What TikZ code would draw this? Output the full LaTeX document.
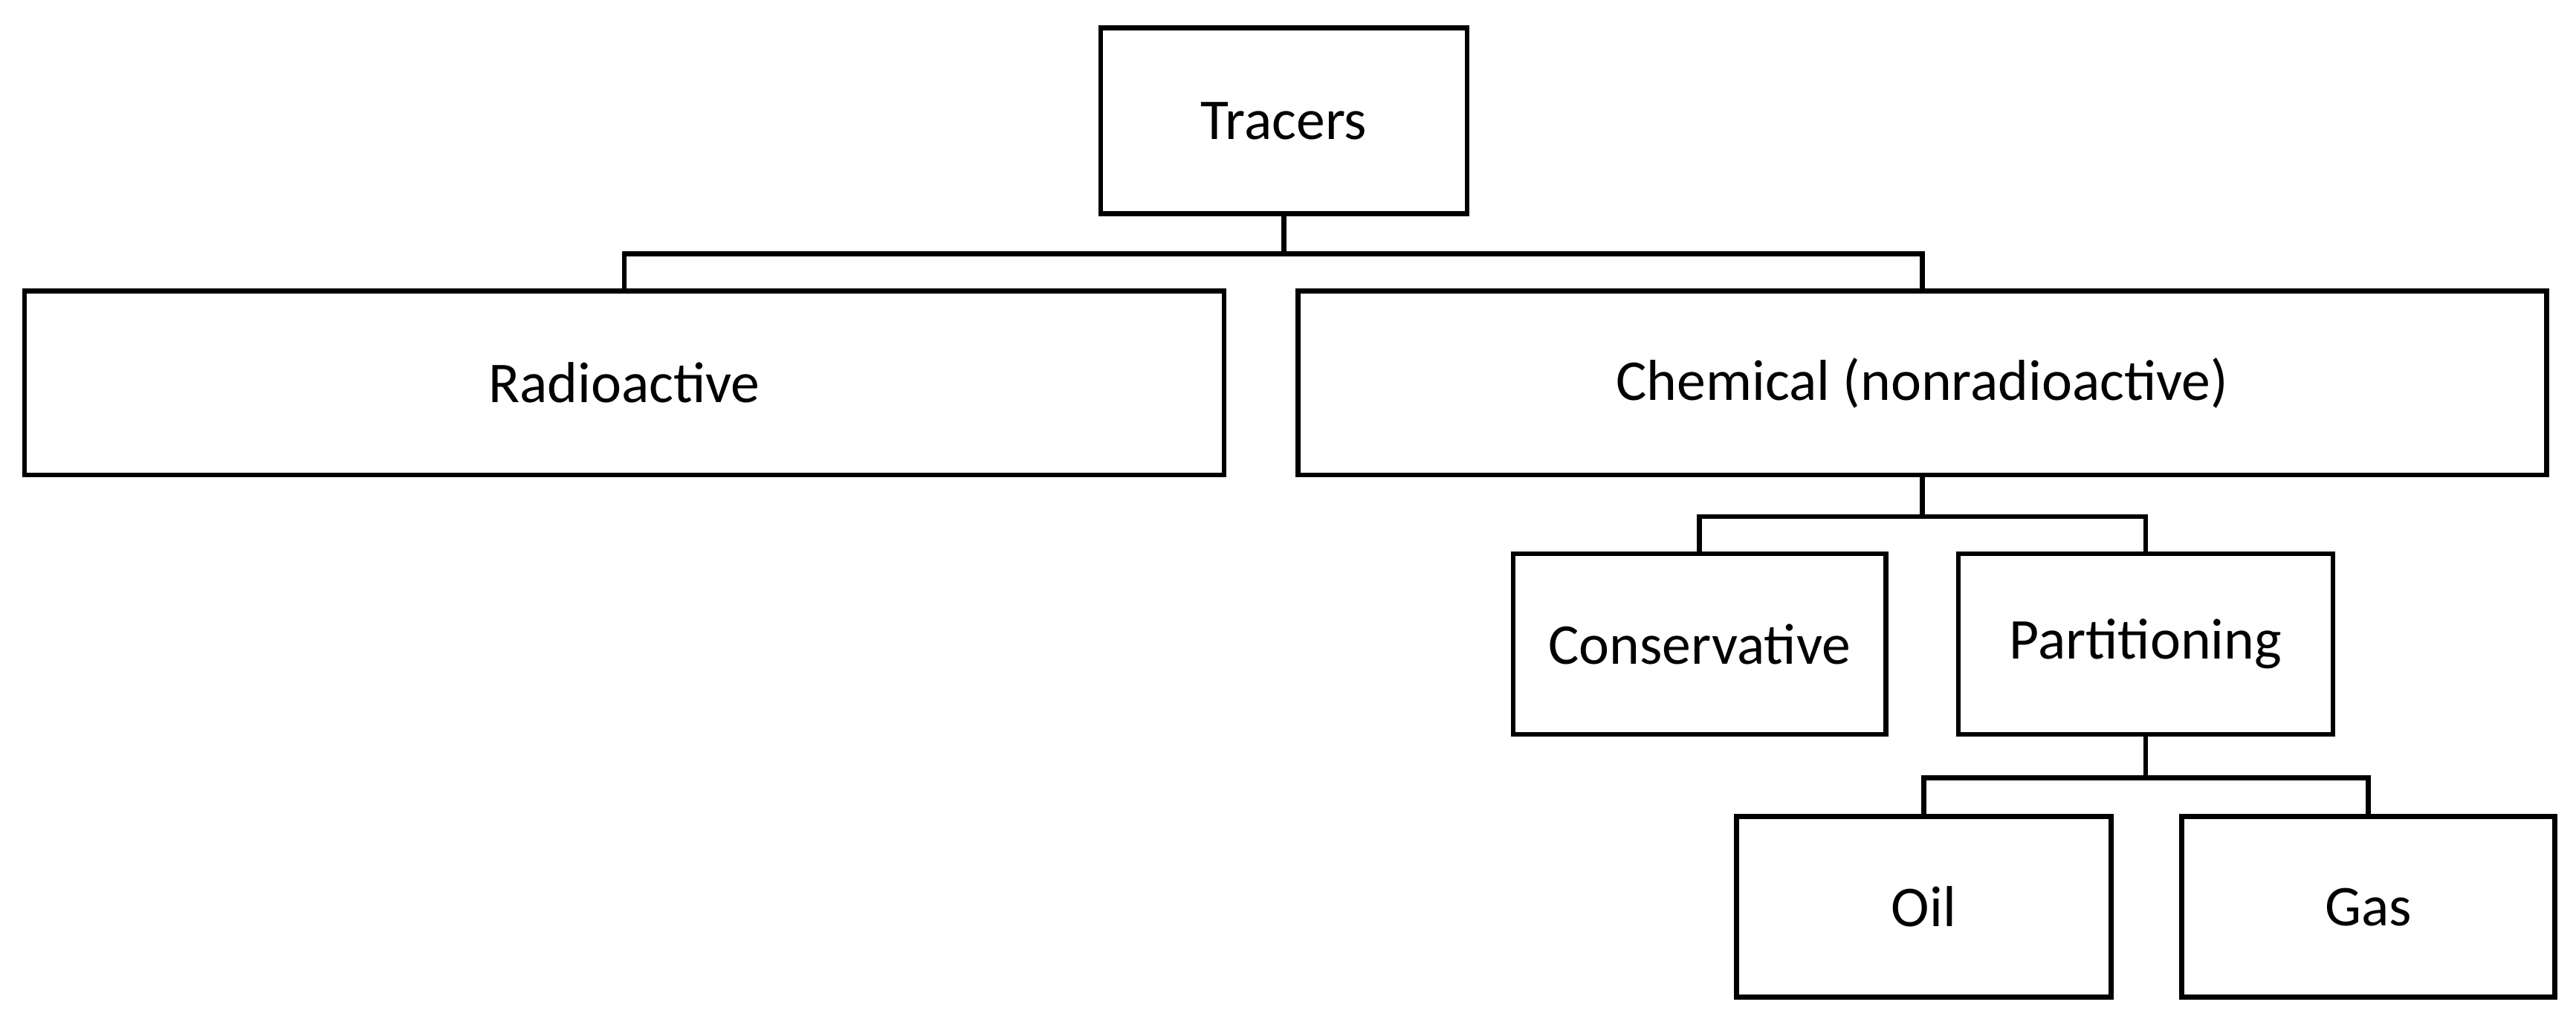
\documentclass[tikz,border=0pt]{standalone}
\usepackage{fontspec}
\setmainfont{Carlito}
\begin{document}
\begin{tikzpicture}[x=0.02cm,y=-0.02cm,
  box/.style={draw,line width=1.7pt,inner sep=0pt,font=\fontsize{20}{24}\selectfont},
  conn/.style={line width=1.7pt}]
\useasboundingbox (0,0) rectangle (1568,622);
\node[box,minimum width=223*0.02cm,minimum height=113*0.02cm] (tr) at (781.5,73.5) {Tracers};
\node[box,minimum width=730*0.02cm,minimum height=112*0.02cm] (ra) at (380,233) {Radioactive};
\node[box,minimum width=760*0.02cm,minimum height=112*0.02cm] (ch) at (1170,233) {Chemical (nonradioactive)};
\node[box,minimum width=227*0.02cm,minimum height=110*0.02cm] (co) at (1034.5,392) {Conservative};
\node[box,minimum width=228*0.02cm,minimum height=110*0.02cm] (pa) at (1306,392) {Partitioning};
\node[box,minimum width=228*0.02cm,minimum height=110*0.02cm] (oi) at (1171,552) {Oil};
\node[box,minimum width=227*0.02cm,minimum height=110*0.02cm] (ga) at (1441.5,552) {Gas};
\draw[conn] (tr.south) -- ++(0,23) -| (ra.north);
\draw[conn] (tr.south) ++(0,23) -| (ch.north);
\draw[conn] (ch.south) -- ++(0,24) -| (co.north);
\draw[conn] (ch.south) ++(0,24) -| (pa.north);
\draw[conn] (pa.south) -- ++(0,25) -| (oi.north);
\draw[conn] (pa.south) ++(0,25) -| (ga.north);
\end{tikzpicture}
\end{document}
